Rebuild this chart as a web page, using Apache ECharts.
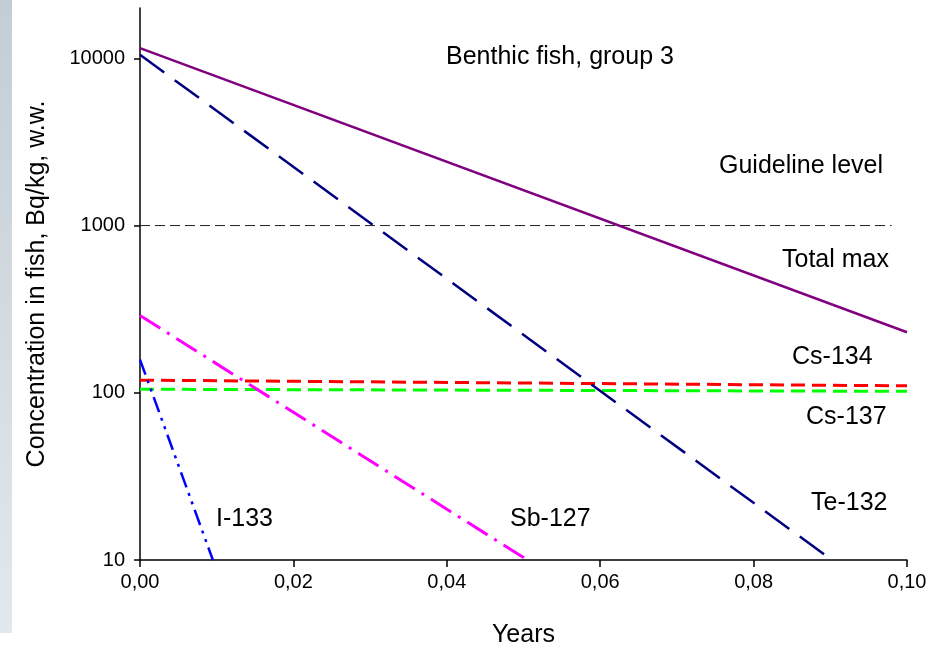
<!DOCTYPE html>
<html>
<head>
<meta charset="utf-8">
<script src="https://cdn.jsdelivr.net/npm/echarts@6/dist/echarts.min.js"></script>
<style>
  html, body { margin: 0; padding: 0; background: #fff; }
  #main { width: 948px; height: 649px; }
</style>
</head>
<body>
<div id="main"></div>
<script>
// years on x, Bq/kg on y (two end points per line)
var totalX = [0, 0.1];
var totalY = [11500, 230];
var teX = [0, 0.0902];
var teY = [10500, 10];
var cs134X = [0, 0.1];
var cs134Y = [119, 110];
var cs137X = [0, 0.1];
var cs137Y = [105, 102];
var sbX = [0, 0.0505];
var sbY = [290, 10];
var iX = [0, 0.0095];
var iY = [158, 10];
var guideX = [0, 0.098];
var guideY = [1000, 1000];
var yTicks = [10, 100, 1000, 10000];

function pts(xs, ys) {
  return xs.map(function (x, i) { return [x, ys[i]]; });
}

var font = 'Liberation Sans';
var bigFont = '25px "Liberation Sans"';
var myChart = echarts.init(document.getElementById('main'));

function line(name, xs, ys, color, width, dash) {
  return {
    name: name,
    type: 'line',
    data: pts(xs, ys),
    symbol: 'none',
    animation: false,
    lineStyle: { color: color, width: width, type: dash }
  };
}

function note(text, x, y) {
  return {
    type: 'text', x: x, y: y,
    style: { text: text, font: bigFont, fill: '#000', verticalAlign: 'middle' }
  };
}

var option = {
  backgroundColor: '#fff',
  grid: { left: 140, right: 41, top: 8, bottom: 89, outerBoundsMode: 'none' },
  xAxis: {
    type: 'value',
    min: 0,
    max: 0.1,
    interval: 0.02,
    name: 'Years',
    nameLocation: 'middle',
    nameGap: 63,
    nameTextStyle: { fontFamily: font, fontSize: 25, color: '#000' },
    axisLine: { lineStyle: { color: '#000', width: 1.5 } },
    axisTick: { show: true, length: 7, lineStyle: { color: '#000', width: 1.5 } },
    axisLabel: {
      fontFamily: font, fontSize: 20, color: '#000', margin: 12,
      formatter: function (v) { return v.toFixed(2).replace('.', ','); }
    },
    splitLine: { show: false }
  },
  yAxis: {
    type: 'log',
    min: 10,
    max: 20000,
    logBase: 10,
    name: 'Concentration in fish, Bq/kg, w.w.',
    nameLocation: 'middle',
    nameGap: 90,
    nameTextStyle: { fontFamily: font, fontSize: 25, color: '#000' },
    axisLine: { show: true, lineStyle: { color: '#000', width: 1.5 } },
    axisTick: { show: true, length: 6, customValues: yTicks, lineStyle: { color: '#000', width: 1.5 } },
    axisLabel: {
      fontFamily: font, fontSize: 20, color: '#000', margin: 15,
      customValues: yTicks,
      formatter: function (v) { return String(Math.round(v)); }
    },
    splitLine: { show: false }
  },
  graphic: [
    {
      type: 'rect', left: 0, top: 0, z: -1,
      shape: { width: 12, height: 633 },
      style: {
        fill: new echarts.graphic.LinearGradient(0, 0, 0, 1, [
          { offset: 0, color: '#c3cdd4' },
          { offset: 1, color: '#e2e8ed' }
        ])
      }
    },
    note('Benthic fish, group 3', 446, 57),
    note('Guideline level', 719, 166),
    note('Total max', 782, 260),
    note('Cs-134', 792, 357),
    note('Cs-137', 806, 417),
    note('Te-132', 811, 503),
    note('Sb-127', 510, 519),
    note('I-133', 216, 519)
  ],
  series: [
    line('Guideline level', guideX, guideY, '#222', 1, [10, 5]),
    line('Cs-137', cs137X, cs137Y, '#00ff00', 3, [14, 7]),
    line('Cs-134', cs134X, cs134Y, '#ff0000', 3, [14, 7]),
    line('Sb-127', sbX, sbY, '#ff00ff', 3, [24, 8, 3, 8]),
    line('I-133', iX, iY, '#0000ff', 2.5, [16, 6, 3, 6, 3, 6]),
    line('Te-132', teX, teY, '#000080', 2.5, [30, 13]),
    line('Total max', totalX, totalY, '#800080', 2.5, 'solid')
  ]
};
myChart.setOption(option);
</script>
</body>
</html>
